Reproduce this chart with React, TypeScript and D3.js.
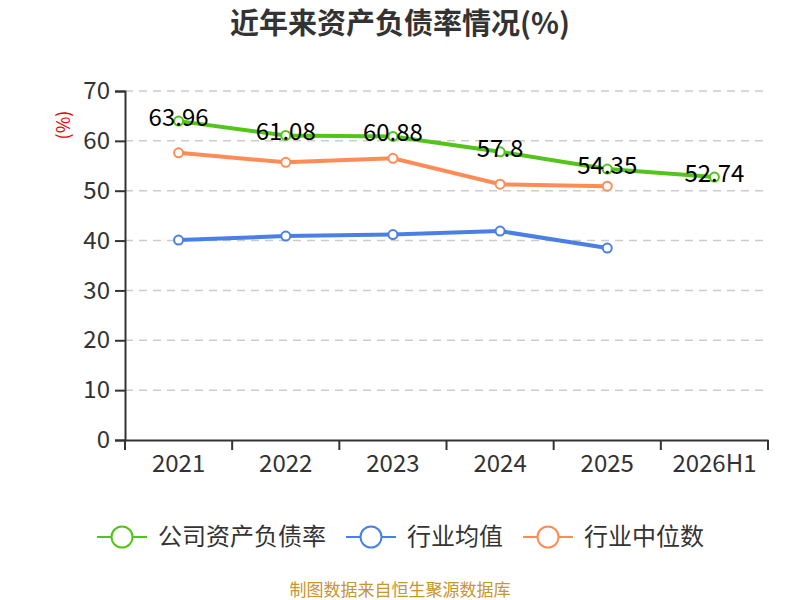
import React, { useEffect, useRef } from 'react';
import * as d3 from 'd3';

const categories = ['2021', '2022', '2023', '2024', '2025', '2026H1'];
const companyRate = [63.96, 61.08, 60.88, 57.8, 54.35, 52.74];
const industryAvg = [40.1, 40.9, 41.2, 41.9, 38.5];
const industryMedian = [57.6, 55.7, 56.5, 51.3, 50.9];
const yTicks = [0, 10, 20, 30, 40, 50, 60, 70];

const seriesInfo = [
  { name: '公司资产负债率', color: '#52c41a', values: companyRate },
  { name: '行业均值', color: '#4a80e4', values: industryAvg },
  { name: '行业中位数', color: '#ff8c57', values: industryMedian },
];

const FONT = '"Noto Sans CJK SC", "Noto Sans", sans-serif';

const App: React.FC = () => {
  const svgRef = useRef<SVGSVGElement>(null);

  useEffect(() => {
    const svg = d3.select(svgRef.current);
    svg.selectAll('*').remove();

    const margin = { top: 91, right: 32, bottom: 160, left: 125 };
    const width = 800;
    const height = 600;

    const x = d3
      .scaleBand()
      .domain(categories)
      .range([margin.left, width - margin.right]);

    const y = d3
      .scaleLinear()
      .domain([0, 70])
      .range([height - margin.bottom, margin.top]);

    // gridlines
    svg
      .append('g')
      .selectAll('line')
      .data(yTicks.filter((t) => t > 0))
      .join('line')
      .attr('x1', margin.left)
      .attr('x2', width - margin.right)
      .attr('y1', (d) => y(d))
      .attr('y2', (d) => y(d))
      .attr('stroke', '#cccccc')
      .attr('stroke-width', 1.5)
      .attr('stroke-dasharray', '8,6');

    // y axis
    const yAxis = svg
      .append('g')
      .attr('transform', `translate(${margin.left},0)`)
      .call(d3.axisLeft(y).tickValues(yTicks).tickSize(10).tickPadding(5));
    yAxis.select('.domain').attr('stroke', '#333').attr('stroke-width', 2);
    yAxis.selectAll('.tick line').attr('stroke', '#333').attr('stroke-width', 2);
    yAxis
      .selectAll('.tick text')
      .attr('fill', '#333')
      .attr('font-size', 24)
      .attr('font-family', FONT);

    // x axis
    const xAxis = svg
      .append('g')
      .attr('transform', `translate(0,${height - margin.bottom})`)
      .call(d3.axisBottom(x).tickSize(0).tickPadding(15));
    xAxis.select('.domain').attr('stroke', '#333').attr('stroke-width', 2);
    xAxis
      .selectAll('.tick text')
      .attr('fill', '#333')
      .attr('font-size', 24)
      .attr('font-family', FONT);
    // boundary ticks
    const bounds = [...categories.map((c) => x(c) as number), width - margin.right];
    svg
      .append('g')
      .selectAll('line')
      .data(bounds)
      .join('line')
      .attr('x1', (d) => d)
      .attr('x2', (d) => d)
      .attr('y1', height - margin.bottom)
      .attr('y2', height - margin.bottom + 10)
      .attr('stroke', '#333')
      .attr('stroke-width', 2);

    const cx = (i: number) => (x(categories[i]) as number) + x.bandwidth() / 2;

    seriesInfo.forEach((s) => {
      const line = d3
        .line<number>()
        .x((_, i) => cx(i))
        .y((d) => y(d));
      svg
        .append('path')
        .datum(s.values)
        .attr('d', line)
        .attr('fill', 'none')
        .attr('stroke', s.color)
        .attr('stroke-width', 4);
      svg
        .append('g')
        .selectAll('circle')
        .data(s.values)
        .join('circle')
        .attr('cx', (_, i) => cx(i))
        .attr('cy', (d) => y(d))
        .attr('r', 4.5)
        .attr('fill', '#fff')
        .attr('stroke', s.color)
        .attr('stroke-width', 2);
    });

    // value labels for company series
    svg
      .append('g')
      .selectAll('text')
      .data(companyRate)
      .join('text')
      .attr('x', (_, i) => cx(i))
      .attr('y', (d) => y(d) + 5)
      .attr('text-anchor', 'middle')
      .attr('font-size', 24)
      .attr('font-family', FONT)
      .attr('fill', '#000')
      .text((d) => String(d));

    // title
    svg
      .append('text')
      .attr('x', width / 2)
      .attr('y', 34)
      .attr('text-anchor', 'middle')
      .attr('font-size', 29)
      .attr('font-weight', 'bold')
      .attr('font-family', FONT)
      .attr('fill', '#333')
      .text('近年来资产负债率情况(%)');

    // y unit
    svg
      .append('text')
      .attr('transform', `translate(70,125) rotate(-90)`)
      .attr('text-anchor', 'middle')
      .attr('font-size', 18)
      .attr('font-family', FONT)
      .attr('fill', '#e00')
      .text('(%)');

    // legend
    const legendX = [97, 346, 523];
    const legendY = 537;
    seriesInfo.forEach((s, i) => {
      const g = svg.append('g').attr('transform', `translate(${legendX[i]},${legendY})`);
      g.append('line')
        .attr('x1', 0)
        .attr('x2', 50)
        .attr('y1', 0)
        .attr('y2', 0)
        .attr('stroke', s.color)
        .attr('stroke-width', 2);
      g.append('circle')
        .attr('cx', 25)
        .attr('cy', 0)
        .attr('r', 10.5)
        .attr('fill', '#fff')
        .attr('stroke', s.color)
        .attr('stroke-width', 2);
      g.append('text')
        .attr('x', 61)
        .attr('y', 0)
        .attr('dy', '0.35em')
        .attr('font-size', 24)
        .attr('font-family', FONT)
        .attr('fill', '#333')
        .text(s.name);
    });

    // footer
    svg
      .append('text')
      .attr('x', width / 2)
      .attr('y', 596)
      .attr('text-anchor', 'middle')
      .attr('font-size', 17)
      .attr('font-family', FONT)
      .attr('fill', '#c8952e')
      .text('制图数据来自恒生聚源数据库');
  }, []);

  return (
    <svg
      ref={svgRef}
      width={800}
      height={600}
      style={{ position: 'absolute', top: 0, left: 0, display: 'block' }}
    />
  );
};

export default App;
